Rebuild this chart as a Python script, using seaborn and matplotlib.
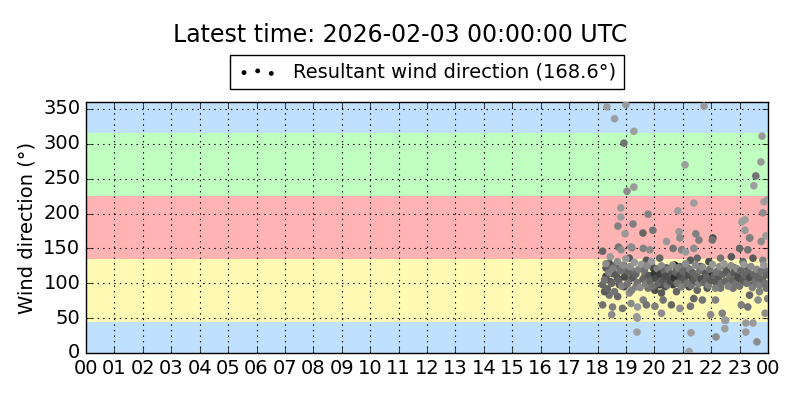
import matplotlib
matplotlib.use('Agg')
import matplotlib.pyplot as plt
import seaborn as sns
import pandas as pd

# scattered points away from the main cloud (hour of day, degrees, grey level)
out_hours = [18.33, 19.0, 18.6, 19.28, 18.93, 19.28, 19.04, 18.82, 18.82, 19.78,
             20.83, 18.72, 19.25, 18.97, 19.6, 19.95, 20.87, 21.08, 21.75, 23.79,
             23.75, 23.57, 23.5, 21.39, 23.86, 23.82, 23.19, 23.08, 23.19, 21.46,
             23.36, 23.93, 19.39, 21.29, 21.22, 22.17, 22.48, 22.48, 23.22, 23.22,
             23.61, 23.47, 18.5, 19.4, 22.06, 24.0]
out_dirs = [353, 356, 336, 318, 301, 238, 232, 208, 195, 199,
            204, 182, 185, 171, 172, 176, 174, 270, 354, 311,
            274, 254, 240, 215, 217, 201, 191, 188, 176, 171,
            165, 168, 30, 29, 2, 23, 35, 47, 30, 43,
            16, 43, 55, 50, 165, 220]
out_grey = [.62, .6, .62, .62, .45, .6, .55, .6, .62, .5,
            .62, .5, .5, .6, .4, .45, .6, .62, .6, .6,
            .6, .45, .62, .62, .62, .55, .62, .62, .6, .5,
            .5, .6, .62, .62, .62, .55, .62, .6, .6, .6,
            .55, .6, .55, .6, .3, .6]

# main cloud
cloud_hours = [18.74, 19.21, 18.83, 18.18, 19.18, 19.12, 18.41, 18.65, 18.30, 18.53,
               18.94, 19.29, 18.47, 18.77, 18.18, 19.12, 19.35, 18.71, 18.41, 18.71,
               19.12, 18.18, 18.53, 18.88, 19.18, 19.41, 18.30, 18.94, 19.38, 18.25,
               19.61, 19.84, 20.43, 20.90, 20.66, 20.96, 19.72, 20.19, 20.72, 19.96,
               20.14, 20.43, 20.90, 19.67, 19.90, 20.55, 20.84, 20.19, 20.37, 20.66,
               21.01, 19.78, 20.02, 20.25, 20.78, 19.61, 20.31, 20.02, 20.60, 20.90,
               19.72, 20.25,
               21.57, 22.04, 21.39, 21.10, 21.27, 21.51, 21.92, 22.33, 21.16, 21.63,
               21.98, 22.21, 22.51, 21.33, 21.74, 22.15, 21.22, 21.51, 21.86, 22.33,
               21.39, 21.69, 22.15, 21.27, 21.98, 22.39, 22.51,
               23.35, 23.76, 23.00, 23.29, 22.71, 23.12, 23.47, 23.82, 22.82, 23.29,
               23.59, 23.88, 22.94, 23.18, 23.47, 23.76, 22.77, 23.35, 23.70, 23.94,
               23.06, 23.29, 23.65, 23.90, 23.99]
cloud_dirs = [152, 151, 148, 146, 152, 136, 129, 126, 122, 114,
              119, 117, 102, 98, 98, 105, 95, 107, 83, 81,
              86, 69, 66, 64, 71, 66, 110, 95, 52, 88,
              150, 148, 160, 165, 150, 148, 133, 136, 126, 122,
              117, 122, 124, 112, 110, 110, 107, 98, 95, 98,
              98, 93, 90, 86, 88, 76, 76, 67, 69, 64,
              69, 57,
              162, 162, 150, 145, 133, 136, 131, 136, 122, 124,
              112, 117, 122, 107, 107, 102, 95, 90, 93, 93,
              78, 76, 76, 67, 55, 57, 47,
              165, 160, 150, 148, 138, 131, 136, 133, 122, 122,
              114, 119, 107, 102, 98, 102, 93, 83, 88, 93,
              69, 66, 76, 57, 78]
cloud_grey = [.45, .5, .55, .4, .55, .35, .3, .4, .35, .3,
              .45, .5, .3, .35, .4, .45, .5, .3, .45, .4,
              .55, .45, .5, .45, .55, .6, .25, .3, .6, .35,
              .5, .55, .6, .55, .45, .5, .35, .4, .0, .3,
              .25, .35, .4, .45, .3, .25, .35, .2, .3, .25,
              .4, .45, .3, .35, .4, .5, .45, .5, .4, .55,
              .45, .55,
              .5, .45, .55, .6, .35, .4, .3, .45, .35, .3,
              .0, .35, .45, .3, .25, .35, .3, .4, .35, .45,
              .4, .45, .5, .45, .55, .5, .6,
              .5, .55, .4, .45, .35, .4, .35, .5, .3, .35,
              .4, .45, .15, .3, .35, .4, .45, .4, .5, .45,
              .5, .45, .55, .55, .5]

# denser filling of the core band
fill_hours = [18.25, 18.3, 18.35, 18.4, 18.45, 18.5, 18.55, 18.6, 18.65, 18.7,
              18.75, 18.8, 18.85, 18.9, 18.95, 19.0, 19.05, 19.1, 19.15, 19.2,
              19.25, 19.3, 19.35, 19.4, 19.45, 19.5, 19.55, 19.6, 19.65, 19.7,
              19.75, 19.8, 19.85, 19.9, 19.95, 20.0, 20.05, 20.1, 20.15, 20.2,
              20.25, 20.3, 20.35, 20.4, 20.45, 20.5, 20.55, 20.6, 20.65, 20.7,
              20.75, 20.8, 20.85, 20.9, 20.95, 21.0, 21.05, 21.1, 21.15, 21.2,
              21.25, 21.3, 21.35, 21.4, 21.45, 21.5, 21.55, 21.6, 21.65, 21.7,
              21.75, 21.8, 21.85, 21.9, 21.95, 22.0, 22.05, 22.1, 22.15, 22.2,
              22.25, 22.3, 22.35, 22.4, 22.45, 22.5, 22.55, 22.6, 22.65, 22.7,
              22.75, 22.8, 22.85, 22.9, 22.95, 23.0, 23.05, 23.1, 23.15, 23.2,
              23.25, 23.3, 23.35, 23.4, 23.45, 23.5, 23.55, 23.6, 23.65, 23.7,
              23.75, 23.8, 23.85, 23.9, 23.95]
fill_dirs = [105, 128, 92, 115, 138, 100, 121, 88, 112, 131,
             104, 118, 96, 126, 109, 135, 99, 116, 124, 90,
             108, 130, 113, 101, 120, 94, 127, 106, 118, 99,
             125, 111, 103, 131, 96, 114, 107, 121, 100, 113,
             125, 104, 117, 110, 97, 120, 103, 113, 126, 108,
             116, 100, 122, 111, 95, 117, 106, 128, 100, 112,
             120, 97, 115, 104, 126, 110, 99, 118, 106, 123,
             101, 114, 108, 97, 120, 104, 127, 111, 93, 116,
             106, 124, 100, 113, 128, 103, 117, 96, 110, 125,
             104, 115, 99, 121, 109, 96, 118, 105, 127, 112,
             100, 116, 108, 124, 94, 113, 103, 120, 109, 97,
             117, 106, 126, 100, 112]
fill_grey = [.45, .55, .4, .5, .6, .4, .5, .45, .35, .55,
             .4, .45, .5, .55, .3, .6, .45, .4, .55, .5,
             .35, .6, .4, .45, .5, .55, .6, .4, .45, .5,
             .55, .35, .4, .6, .45, .2, .3, .5, .4, .25,
             .55, .35, .4, .3, .45, .5, .3, .35, .55, .2,
             .4, .45, .5, .3, .5, .4, .35, .55, .45, .3,
             .5, .45, .4, .35, .55, .4, .5, .45, .3, .55,
             .4, .35, .4, .5, .45, .35, .6, .4, .5, .45,
             .35, .55, .45, .4, .6, .4, .35, .5, .45, .55,
             .4, .35, .45, .55, .3, .45, .4, .35, .6, .4,
             .45, .4, .3, .55, .5, .4, .45, .55, .4, .5,
             .45, .4, .6, .45, .4]

hour_labels = ['%02d' % h for h in range(24)] + ['00']
resultant_dir = 168.6
title = 'Latest time: 2026-02-03 00:00:00 UTC'

df = pd.DataFrame({
    'hour': out_hours + cloud_hours + fill_hours,
    'dir': out_dirs + cloud_dirs + fill_dirs,
    'grey': out_grey + cloud_grey + fill_grey,
})

plt.style.use('classic')
fig = plt.figure(figsize=(8, 4), dpi=100, facecolor='white')
ax = fig.add_axes([0.1075, 0.1175, 0.8525, 0.6275])

# direction sectors
ax.axhspan(0, 45, color='#bfe0ff', lw=0, zorder=0)
ax.axhspan(45, 135, color='#fffbb4', lw=0, zorder=0)
ax.axhspan(135, 225, color='#ffb3b3', lw=0, zorder=0)
ax.axhspan(225, 315, color='#bfffbf', lw=0, zorder=0)
ax.axhspan(315, 360, color='#bfe0ff', lw=0, zorder=0)

cols = [(g, g, g) for g in df['grey']]
sns.scatterplot(data=df, x='hour', y='dir', c=cols, s=30, linewidth=0,
                ax=ax, zorder=3, legend=False)
ax.scatter([], [], c='k', s=12, lw=0,
           label='Resultant wind direction (%.1f\u00b0)' % resultant_dir)

ax.set_xlim(0, 24)
ax.set_ylim(0, 360)
ax.set_xticks(range(25))
ax.set_xticklabels(hour_labels)
ax.set_yticks(range(0, 351, 50))
ax.tick_params(labelsize=14)
ax.set_xlabel('')
ax.set_ylabel('Wind direction (\u00b0)', fontsize=14)
ax.grid(True, color='k', linestyle=':', linewidth=0.8)
ax.set_axisbelow(False)

ax.legend(loc='lower center', bbox_to_anchor=(0.5, 1.05), fontsize=14,
          scatterpoints=3, fancybox=False, borderaxespad=0)
fig.text(0.5, 0.9125, title, fontsize=17, ha='center', va='center')

fig.savefig('out.png', dpi=100, facecolor='white')
